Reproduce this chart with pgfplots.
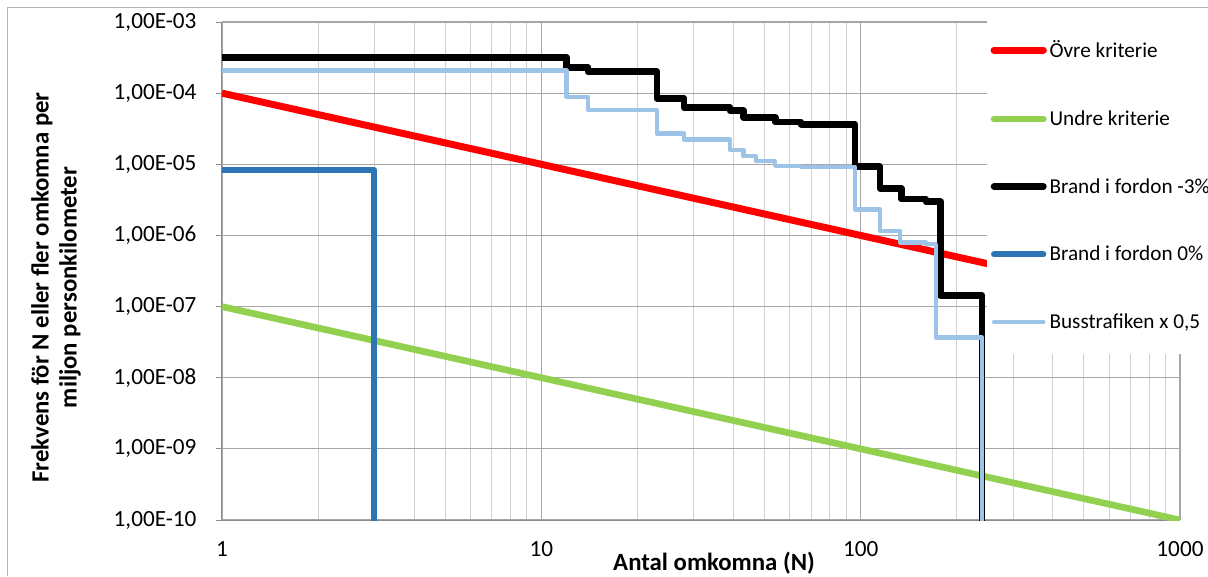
\documentclass[border=0pt]{standalone}
\usepackage{fontspec}
\setmainfont{Carlito}
\usepackage{pgfplots}
\pgfplotsset{compat=1.18}

\definecolor{ovre}{HTML}{FF0000}
\definecolor{undre}{HTML}{92D050}
\definecolor{brandtre}{HTML}{000000}
\definecolor{brandnoll}{HTML}{2E75B6}
\definecolor{buss}{HTML}{9DC3E6}
\definecolor{axisgray}{HTML}{8C8C8C}
\definecolor{majgray}{HTML}{A6A6A6}
\definecolor{mingray}{HTML}{D0D0D0}
\definecolor{framegray}{HTML}{B4B4B4}

\begin{document}
\begin{tikzpicture}
% page area (fixed) and chart frame
\useasboundingbox (-166.5pt,-42pt) rectangle (739.5pt,390pt);
\fill[white] (-166.5pt,-42pt) rectangle (739.5pt,390pt);
\draw[framegray, line width=0.75pt] (-160.5pt,-42pt) -- (-160.5pt,384pt) -- (739.5pt,384pt);
\begin{axis}[
  at={(0,0)}, anchor=south west,
  scale only axis, width=718.5pt, height=373.5pt,
  xmode=log, ymode=log,
  xmin=1, xmax=1000, ymin=1e-10, ymax=1e-3,
  axis lines*=left,
  axis line style={draw=axisgray, line width=0.75pt},
  xtick={1,10,100,1000},
  xticklabels={1,10,100,1000},
  ytick={1e-10,1e-9,1e-8,1e-7,1e-6,1e-5,1e-4,1e-3},
  yticklabels={{1,00E-10},{1,00E-09},{1,00E-08},{1,00E-07},{1,00E-06},{1,00E-05},{1,00E-04},{1,00E-03}},
  xmajorgrids=true, xminorgrids=true, ymajorgrids=true,
  yminorticks=false,
  major grid style={draw=majgray, line width=0.8pt},
  minor grid style={draw=mingray, line width=0.75pt},
  xtick style={draw=none},
  minor x tick style={draw=none},
  ytick style={draw=axisgray, line width=0.75pt},
  ytick align=outside,
  major tick length=4.5pt,
  ticklabel style={font=\fontsize{17.4pt}{20pt}\selectfont},
  yticklabel style={anchor=east, inner sep=0pt, xshift=-14.5pt},
  xticklabel style={anchor=center, inner sep=0pt, yshift=-21.75pt},
  xlabel={Antal omkomna (N)},
  xlabel style={at={(axis description cs:0.5136,0)}, anchor=center, yshift=-32.25pt,
    font=\fontsize{18.6pt}{21pt}\selectfont\bfseries},
  ylabel={Frekvens för N eller fler omkomna per\\miljon personkilometer},
  ylabel style={at={(axis description cs:-0.1733,0.467)}, anchor=center, align=center,
    font=\fontsize{18.6pt}{21pt}\selectfont\bfseries},
  legend style={at={(rel axis cs:0.7985,1)}, anchor=north west, yshift=4.25pt,
    draw=none, fill=white, inner xsep=2.5pt, inner ysep=16pt, row sep=34.25pt,
    font=\fontsize{15.9pt}{18pt}\selectfont, cells={anchor=west}},
  legend cell align=left,
  legend image code/.code={\draw[#1, line cap=round] (0pt,0pt) -- (37pt,0pt);},
  every axis plot/.append style={line join=round},
]
% acceptance criteria
\addplot[ovre, line width=5.25pt] coordinates {(1,1e-4) (1000,1e-7)};
\addlegendentry{Övre kriterie}
\addplot[undre, line width=5pt] coordinates {(1,1e-7) (1000,1e-10)};
\addlegendentry{Undre kriterie}
% F/N curves (cumulative frequency, stepwise)
\addplot[brandtre, line width=5pt, const plot] coordinates {
  (1,3.2e-4) (12,2.31e-4) (14,2.0e-4) (23,8.45e-5) (28,6.27e-5) (39,5.66e-5)
  (43,4.56e-5) (54,3.92e-5) (65,3.64e-5) (96,9.23e-6) (115,4.58e-6)
  (134,3.24e-6) (160,2.97e-6) (178,1.44e-7) (240,1e-11)};
\addlegendentry{Brand i fordon -3\%}
\addplot[brandnoll, line width=4.5pt, const plot] coordinates {(1,8.3e-6) (3,1e-11)};
\addlegendentry{Brand i fordon 0\%}
\addplot[buss, line width=3.25pt, const plot] coordinates {
  (1,2.08e-4) (12,8.9e-5) (14,5.78e-5) (23,2.72e-5) (28,2.24e-5) (39,1.58e-5)
  (43,1.30e-5) (47,1.11e-5) (54,9.53e-6) (65,9.23e-6) (96,2.32e-6)
  (115,1.16e-6) (133,7.98e-7) (160,7.55e-7) (172,3.67e-8) (240,1e-11)};
\addlegendentry{Busstrafiken x 0,5}
\end{axis}
\end{tikzpicture}
\end{document}
